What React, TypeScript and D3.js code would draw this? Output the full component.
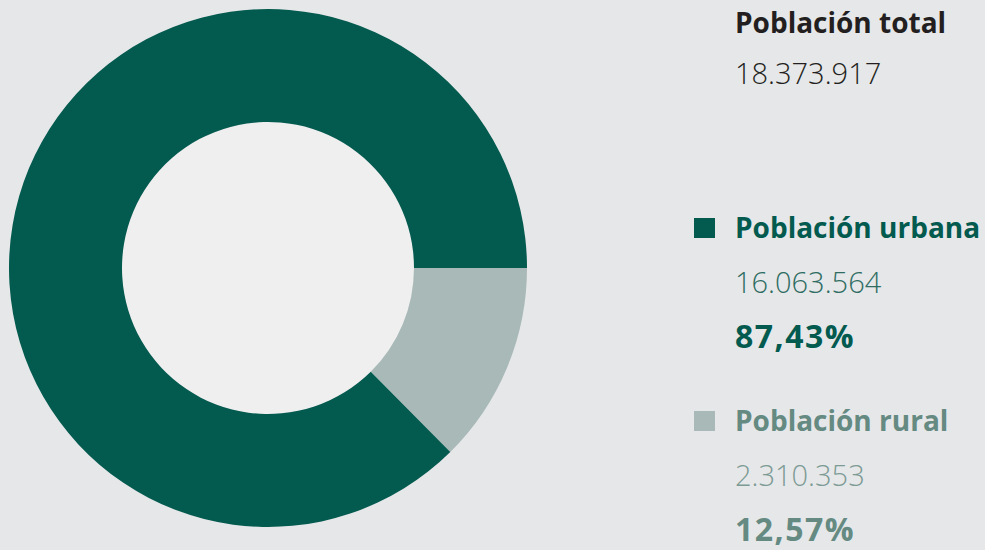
import React from "react";
import * as d3 from "d3";

const categories = ["Población rural", "Población urbana"];
const values = [2310353, 16063564];
const valueLabels = ["2.310.353", "16.063.564"];
const percentLabels = ["12,57%", "87,43%"];
const totalLabel = "Población total";
const totalValue = "18.373.917";
const colors = ["#a9b9b7", "#035a4f"];

const W = 985;
const H = 550;

export default function App() {
  const cx = 268;
  const cy = 268;
  const outerR = 259;
  const innerR = 146;
  const pie = d3
    .pie<number>()
    .sort(null)
    .value((d) => d)
    .startAngle(Math.PI / 2)
    .endAngle(Math.PI / 2 + 2 * Math.PI);
  const arcs = pie(values);
  const arc = d3.arc<d3.PieArcDatum<number>>().innerRadius(innerR).outerRadius(outerR);
  const font = "'Open Sans', 'Noto Sans', sans-serif";

  const legend = [
    { i: 1, y: 218, label: "#035a4f", num: "#2f6d63", pct: "#035a4f" },
    { i: 0, y: 411, label: "#648a82", num: "#7d9b95", pct: "#648a82" },
  ];

  return (
    <svg
      width={W}
      height={H}
      style={{ position: "absolute", left: 0, top: 0, background: "#e6e7e9" }}
    >
      <rect width={W} height={H} fill="#e6e7e9" />
      <g transform={`translate(${cx},${cy})`}>
        <circle r={innerR} fill="#efefef" />
        {arcs.map((a, k) => (
          <path key={k} d={arc(a) || ""} fill={colors[k]} />
        ))}
      </g>
      <text x={735} y={33} fontFamily={font} fontWeight={700} fontSize={28} fill="#231f20">
        {totalLabel}
      </text>
      <text x={735} y={84} fontFamily={font} fontWeight={300} fontSize={29} fill="#231f20">
        {totalValue}
      </text>
      {legend.map((l) => (
        <g key={l.i}>
          <rect x={694} y={l.y} width={21} height={20} fill={colors[l.i]} />
          <text x={735} y={l.y + 20} fontFamily={font} fontWeight={700} fontSize={28} fill={l.label}>
            {categories[l.i]}
          </text>
          <text x={735} y={l.y + 75} fontFamily={font} fontWeight={300} fontSize={29} fill={l.num}>
            {valueLabels[l.i]}
          </text>
          <text
            x={735}
            y={l.y + 130}
            fontFamily={font}
            fontWeight={700}
            fontSize={32}
            letterSpacing={1.5}
            fill={l.pct}
          >
            {percentLabels[l.i]}
          </text>
        </g>
      ))}
    </svg>
  );
}
